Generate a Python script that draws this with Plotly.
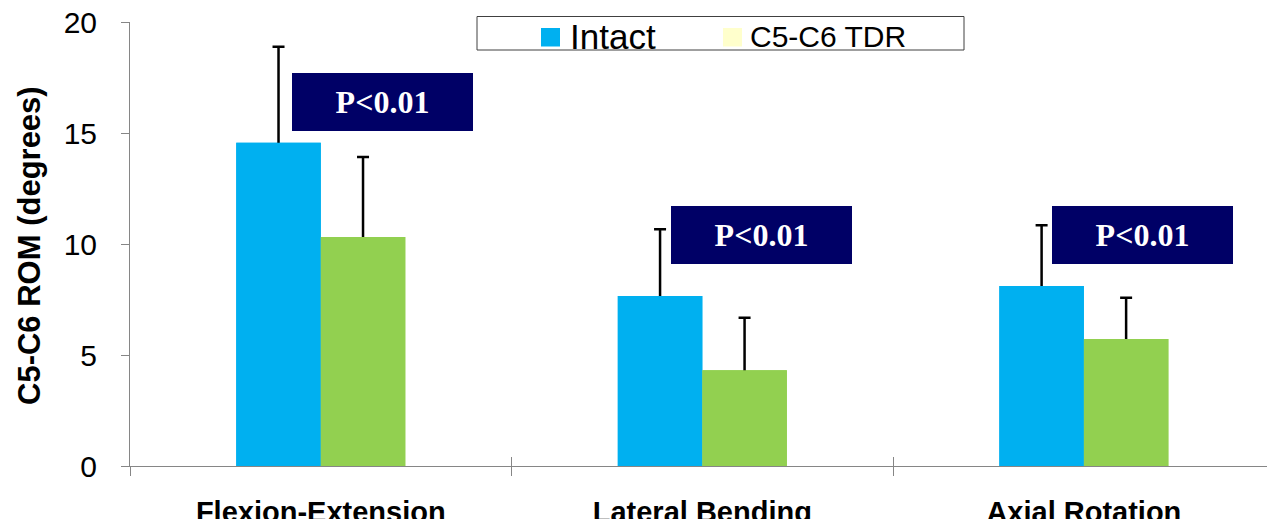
import plotly.graph_objects as go

# Range of motion at C5-C6, mean and SD (degrees)
categories = ["Flexion-Extension", "Lateral Bending", "Axial Rotation"]
intact_mean = [14.56, 7.66, 8.11]
intact_sd = [4.33, 3.00, 2.73]
tdr_mean = [10.32, 4.31, 5.72]
tdr_sd = [3.60, 2.37, 1.86]
p_labels = ["P<0.01", "P<0.01", "P<0.01"]
y_ticks = [0, 5, 10, 15, 20]

W, H = 1267, 519
ML, MR, MT, MB = 130, 0, 22, 53
AXIS_GRAY = "#868686"
BLUE = "#00B0F0"
GREEN = "#92D050"
NAVY = "#000066"
PALE = "#FFFFCC"
SANS = "Liberation Sans, Arial, sans-serif"


def px_x(px):
    return (px - ML) / (W - ML - MR)


def px_y(py):
    return 1 - (py - MT) / (H - MT - MB)


def err(sd):
    return dict(type="data", array=sd, color="black", thickness=2.5, width=6)


fig = go.Figure()
# bars with their SD whiskers
fig.add_trace(go.Bar(x=categories, y=intact_mean, name="Intact",
                     marker_color=BLUE, marker_line_width=0,
                     showlegend=False, error_y=err(intact_sd)))
fig.add_trace(go.Bar(x=categories, y=tdr_mean, name="C5-C6 TDR",
                     marker_color=GREEN, marker_line_width=0,
                     showlegend=False, error_y=err(tdr_sd)))
# same bars again on the overlay axis, hiding the lower half of each whisker
fig.add_trace(go.Bar(x=categories, y=intact_mean, xaxis="x2",
                     marker_color=BLUE, marker_line_width=0,
                     showlegend=False, hoverinfo="skip"))
fig.add_trace(go.Bar(x=categories, y=tdr_mean, xaxis="x2",
                     marker_color=GREEN, marker_line_width=0,
                     showlegend=False, hoverinfo="skip"))

# significance boxes above each group
p_pos = [(0.163, 16.41), (1.155, 10.42), (2.153, 10.40)]
annotations = []
for (xp, yp), lab in zip(p_pos, p_labels):
    annotations.append(dict(
        x=xp, y=yp, xref="x", yref="y", text="<b>%s</b>" % lab,
        showarrow=False, width=181, height=58, bgcolor=NAVY,
        borderpad=0, borderwidth=0, align="center", valign="middle",
        font=dict(family="Liberation Serif, Times New Roman, serif",
                  size=32, color="white"),
    ))

# y axis title
annotations.append(dict(
    x=px_x(30), y=px_y(246), xref="paper", yref="paper",
    text="<b>C5-C6 ROM (degrees)</b>", textangle=-90, showarrow=False,
    xanchor="center", yanchor="middle",
    font=dict(family=SANS, size=31, color="black"),
))

# legend drawn by hand
shapes = [
    dict(type="rect", xref="paper", yref="paper",
         x0=px_x(477), x1=px_x(964), y0=px_y(50), y1=px_y(16.5),
         line=dict(color="#404040", width=1), fillcolor="white", layer="above"),
    dict(type="rect", xref="paper", yref="paper",
         x0=px_x(541), x1=px_x(560), y0=px_y(46.5), y1=px_y(28),
         line=dict(width=0), fillcolor=BLUE, layer="above"),
    dict(type="rect", xref="paper", yref="paper",
         x0=px_x(723), x1=px_x(742), y0=px_y(46.5), y1=px_y(28),
         line=dict(width=0), fillcolor=PALE, layer="above"),
]
annotations.append(dict(
    x=px_x(568), y=px_y(36), xref="paper", yref="paper", text="Intact",
    showarrow=False, xanchor="left", yanchor="middle",
    font=dict(family=SANS, size=35, color="black"),
))
annotations.append(dict(
    x=px_x(748), y=px_y(37), xref="paper", yref="paper", text="C5-C6 TDR",
    showarrow=False, xanchor="left", yanchor="middle",
    font=dict(family=SANS, size=30, color="black"),
))

fig.update_layout(
    width=W, height=H,
    margin=dict(l=ML, r=MR, t=MT, b=MB, pad=0, autoexpand=False),
    paper_bgcolor="white", plot_bgcolor="white",
    barmode="group", bargap=0.557, bargroupgap=0,
    annotations=annotations, shapes=shapes,
    xaxis=dict(
        type="category", range=[-0.5, 2.48], automargin=False,
        showline=True, linecolor=AXIS_GRAY, linewidth=1,
        ticks="outside", tickson="boundaries", ticklen=9,
        tickcolor=AXIS_GRAY, tickwidth=1, showgrid=False, zeroline=False,
        ticklabelstandoff=20,
        tickfont=dict(family=SANS, size=29, color="black", weight="bold"),
    ),
    xaxis2=dict(
        type="category", overlaying="x", matches="x", side="bottom",
        automargin=False,
        showline=False, ticks="inside", tickson="boundaries", ticklen=9,
        tickcolor=AXIS_GRAY, tickwidth=1, showticklabels=False,
        showgrid=False, zeroline=False,
    ),
    yaxis=dict(
        range=[0, 20], tickvals=y_ticks, automargin=False,
        showline=True, linecolor=AXIS_GRAY,
        linewidth=1, ticks="outside", ticklen=8, tickcolor=AXIS_GRAY,
        tickwidth=1, showgrid=False, zeroline=False, ticklabelstandoff=18,
        tickfont=dict(family=SANS, size=30, color="black"),
    ),
)

fig.write_html("out.html")
